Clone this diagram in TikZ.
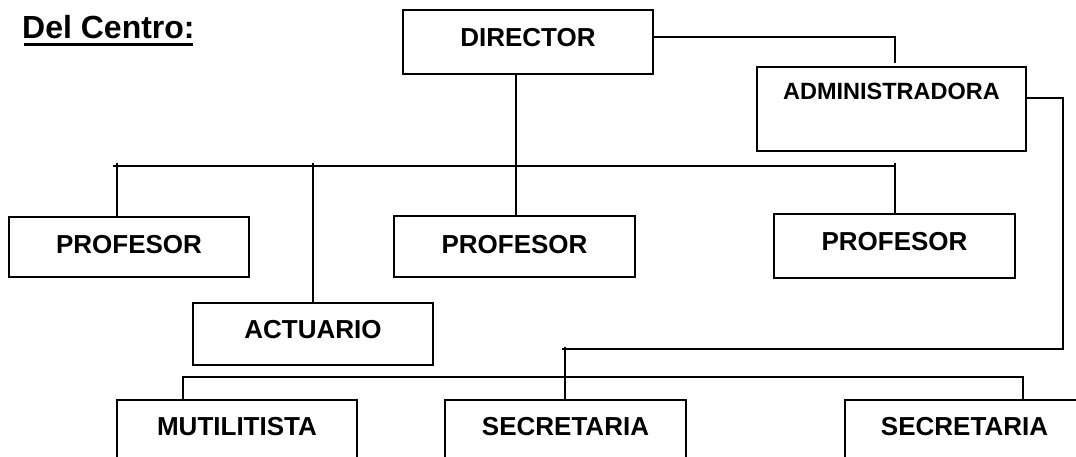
\documentclass[tikz,border=0pt]{standalone}
\usepackage{fontspec}
\setmainfont{Liberation Sans}
\begin{document}
\begin{tikzpicture}[x=1pt,y=-1pt,
  box/.style={draw, line width=2pt, rectangle, inner sep=0pt,
    font=\fontsize{26}{30}\bfseries\selectfont, text height=20pt},
  conn/.style={line width=2pt}]
\useasboundingbox (0,0) rectangle (1076,457);
\fill[white] (0,0) rectangle (1076,457);
\clip (0,0) rectangle (1076,457);

% title
\node[inner sep=0pt, anchor=base west, font=\fontsize{32}{36}\bfseries\selectfont] (title) at (22,38.6) {Del Centro:};
\draw[line width=2.5pt] ([yshift=-5.7pt,xshift=2pt]title.base west) -- ([yshift=-5.7pt,xshift=-2pt]title.base east);

% boxes
\node[box, minimum width=250pt, minimum height=64pt, text depth=11pt] (dir) at (528,42) {DIRECTOR};
\node[box, minimum width=269pt, minimum height=84pt, text height=17pt, text depth=35pt,
  font=\fontsize{23.5}{28}\bfseries\selectfont] (adm) at (891.5,109) {ADMINISTRADORA};
\node[box, minimum width=240pt, minimum height=60pt, text depth=7pt] (p1) at (129,247) {PROFESOR};
\node[box, minimum width=241pt, minimum height=61pt, text depth=7pt] (p2) at (514.5,246.5) {PROFESOR};
\node[box, minimum width=241pt, minimum height=64pt, text depth=10pt] (p3) at (894.5,246) {PROFESOR};
\node[box, minimum width=240pt, minimum height=62pt, text depth=12pt] (act) at (313,334) {ACTUARIO};
\node[box, minimum width=240pt, minimum height=80pt, text depth=30pt] (mut) at (237,440) {MUTILITISTA};
\node[box, minimum width=241pt, minimum height=80pt, text depth=30pt] (sec1) at (565.5,440) {SECRETARIA};
\node[box, minimum width=239pt, minimum height=80pt, text depth=30pt] (sec2) at (964.5,440) {SECRETARIA};

% director -> administradora
\coordinate (admtop) at (895,63);
\draw[conn] ([yshift=4.5pt]dir.east) -| (admtop);

% director -> profesor (middle)
\draw[conn] ([xshift=-12pt]dir.south) -- ([xshift=-12pt]dir.south |- p2.north);

% upper bus
\coordinate (busL) at (113,166);
\coordinate (busR) at (895,166);
\draw[conn] (busL) -- (busR);
\coordinate (t1) at (117,163);
\coordinate (t2) at (313,163);
\coordinate (t3) at (895,163);
\draw[conn] (t1) -- (t1 |- p1.north);
\draw[conn] (t2) -- (act.north);
\draw[conn] (t3) -- (t3 |- p3.north);

% administradora -> secretaria
\coordinate (ar) at (1063,349);
\coordinate (al) at (562,349);
\draw[conn] ([yshift=11pt]adm.east) -| (ar) -- (al);
\coordinate (sv) at (565,347);
\draw[conn] (sv) -- ([yshift=-2pt]sv |- sec1.north);

% lower bus
\coordinate (bl) at (183,377);
\coordinate (br) at (1023,377);
\draw[conn] (bl |- mut.north) -- (bl) -- (br) -- (br |- sec2.north);
\end{tikzpicture}
\end{document}
